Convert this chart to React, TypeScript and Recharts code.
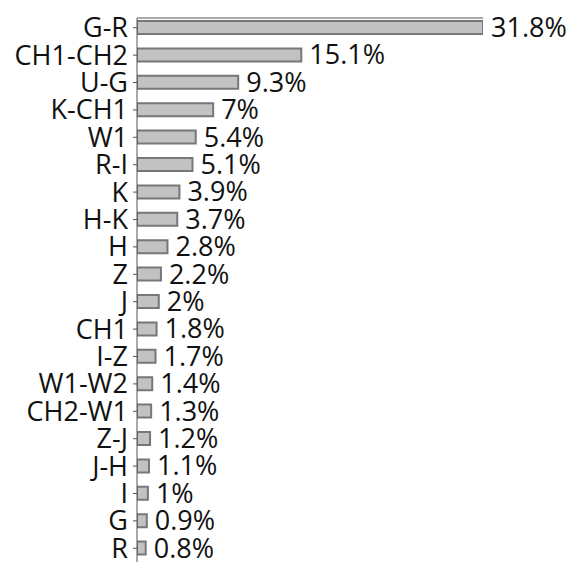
import { BarChart, Bar, XAxis, YAxis, LabelList } from "recharts";

const categories = [
  "G-R", "CH1-CH2", "U-G", "K-CH1", "W1", "R-I", "K", "H-K", "H", "Z",
  "J", "CH1", "I-Z", "W1-W2", "CH2-W1", "Z-J", "J-H", "I", "G", "R",
];
const shares = [
  31.8, 15.1, 9.3, 7, 5.4, 5.1, 3.9, 3.7, 2.8, 2.2,
  2, 1.8, 1.7, 1.4, 1.3, 1.2, 1.1, 1, 0.9, 0.8,
];
const majorTicks = [0, 10.6, 21.2, 31.8];
const minorTicks = Array.from({ length: 31 }, (_, i) => +(i * 1.06).toFixed(2));
const sideTicks = Array.from({ length: 81 }, (_, i) => i);

const data = categories.map((name, i) => ({ name, value: shares[i] }));

const FONT = "'Open Sans', sans-serif";

export default function App() {
  return (
    <div
      style={{
        position: "absolute",
        left: 0,
        top: 0,
        width: 575,
        height: 563,
        overflow: "hidden",
        background: "#fff",
      }}
    >
      <BarChart
        width={575}
        height={563}
        data={data}
        layout="vertical"
        margin={{ top: 13, right: 92, bottom: 1, left: 0 }}
        barSize={13}
      >
        <XAxis
          type="number"
          orientation="top"
          domain={[0, 31.8]}
          ticks={majorTicks}
          tick={false}
          height={5}
          tickSize={4}
          stroke="#555"
          allowDataOverflow
        />
        <XAxis
          xAxisId="minor"
          type="number"
          orientation="top"
          mirror
          domain={[0, 31.8]}
          ticks={minorTicks}
          tick={false}
          axisLine={false}
          tickSize={3}
          stroke="#555"
          height={5}
        />
        <YAxis
          type="category"
          dataKey="name"
          width={137}
          tickSize={4}
          tickMargin={5}
          stroke="#555"
          interval={0}
          padding={{ top: -4, bottom: 0 }}
          tick={{ fontFamily: FONT, fontSize: 27, fill: "#111" }}
        />
        <YAxis
          yAxisId="minor"
          type="number"
          orientation="left"
          mirror
          domain={[0, 80]}
          ticks={sideTicks}
          tick={false}
          axisLine={false}
          tickSize={3}
          stroke="#555"
        />
        <Bar
          dataKey="value"
          fill="#c2c2c2"
          stroke="#777"
          strokeWidth={2}
          isAnimationActive={false}
        >
          <LabelList
            dataKey="value"
            position="right"
            offset={8}
            formatter={(v: any) => `${v}%`}
            style={{ fontFamily: FONT, fontSize: 27, fill: "#111" }}
          />
        </Bar>
      </BarChart>
    </div>
  );
}
